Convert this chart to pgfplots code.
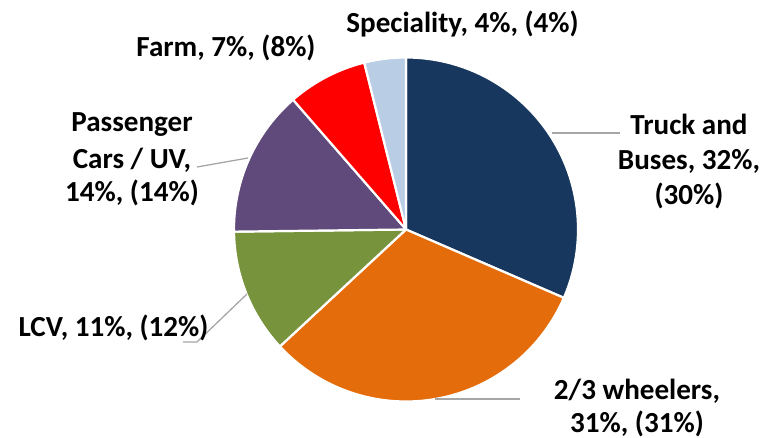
\documentclass[border=0pt]{standalone}
\usepackage{pgfplots}
\pgfplotsset{compat=1.18}
\usepackage{pgfplotstable}
\usepackage{fontspec}
\setmainfont{Carlito}
\definecolor{cTruck}{HTML}{17375E}
\definecolor{cWheel}{HTML}{E46C0A}
\definecolor{cLCV}{HTML}{77933C}
\definecolor{cPass}{HTML}{604A7B}
\definecolor{cFarm}{HTML}{FF0000}
\definecolor{cSpec}{HTML}{B9CDE5}
\definecolor{cLead}{HTML}{A6A6A6}
% share of each segment (percent), clockwise from 12 o'clock
\pgfplotstableread{
value color
31.5 cTruck
31.6 cWheel
11.7 cLCV
13.8 cPass
7.5 cFarm
3.9 cSpec
}\piedata
\newcommand{\lab}{\bfseries\fontsize{29.2}{35}\selectfont}
\begin{document}
\begin{tikzpicture}
\begin{axis}[
  hide axis, scale only axis,
  width=761bp, height=438bp,
  xmin=0, xmax=761, ymin=0, ymax=438,
  clip=false,
]
\def\angA{90}
\pgfplotsforeachungrouped \i in {0,...,5}{%
  \pgfplotstablegetelem{\i}{value}\of\piedata \let\v\pgfplotsretval
  \pgfplotstablegetelem{\i}{color}\of\piedata \let\c\pgfplotsretval
  \pgfmathsetmacro\angB{\angA-3.6*\v}%
  \edef\doslice{\noexpand\addplot[fill=\c, draw=white, line width=2.2pt, line join=round,
     domain=\angB:\angA, samples=90, variable=\noexpand\t]
     ({406+172*cos(\noexpand\t)},{208.5+172*sin(\noexpand\t)}) -- (axis cs:406,208.5) -- cycle;}%
  \doslice
  \global\let\angA\angB
}
% leader lines
\addplot[cLead, line width=1.3pt] coordinates {(552,305) (620,305)};
\addplot[cLead, line width=1.3pt] coordinates {(197,271) (248,280)};
\addplot[cLead, line width=1.3pt] coordinates {(247,144) (197,96) (183,96)};
\addplot[cLead, line width=1.3pt] coordinates {(435,39) (520,39)};
% labels
\node[anchor=base, inner sep=0pt] at (axis cs:462.5,405) {\lab Speciality, 4\%, (4\%)};
\node[anchor=base, inner sep=0pt] at (axis cs:226,381.3) {\lab Farm, 7\%, (8\%)};
\node[anchor=base, inner sep=0pt] at (axis cs:132,306.3) {\lab Passenger};
\node[anchor=base, inner sep=0pt] at (axis cs:132,269.7) {\lab Cars / UV,};
\node[anchor=base, inner sep=0pt] at (axis cs:132,236.3) {\lab 14\%, (14\%)};
\node[anchor=base, inner sep=0pt] at (axis cs:689,303) {\lab Truck and};
\node[anchor=base, inner sep=0pt] at (axis cs:689,268) {\lab Buses, 32\%,};
\node[anchor=base, inner sep=0pt] at (axis cs:689,233.5) {\lab (30\%)};
\node[anchor=base, inner sep=0pt] at (axis cs:113.5,101.3) {\lab LCV, 11\%, (12\%)};
\node[anchor=base, inner sep=0pt] at (axis cs:637,38) {\lab 2/3 wheelers,};
\node[anchor=base, inner sep=0pt] at (axis cs:637,5.8) {\lab 31\%, (31\%)};
\end{axis}
\pgfresetboundingbox
\path (0,0) rectangle (761bp,438bp);
\end{tikzpicture}
\end{document}
